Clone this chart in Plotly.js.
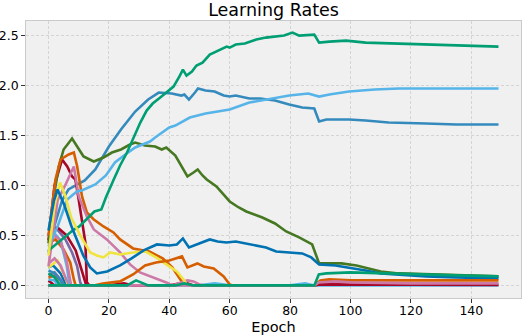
<!DOCTYPE html>
<html>
<head>
<meta charset="utf-8">
<script src="https://cdn.plot.ly/plotly-3.0.1.min.js"></script>
<style>
  html, body { margin: 0; padding: 0; background: #fff; }
  #plot { width: 524px; height: 336px; }
</style>
</head>
<body>
<div id="plot"></div>
<script>
// colours (bmh cycle)
const cBlue = '#348ABD', cRed = '#A60628', cPurple = '#7A68A6', cOlive = '#467821',
      cOrange = '#D55E00', cPink = '#CC79A7', cLight = '#56B4E9', cGreen = '#009E73',
      cYellow = '#F0E442', cDark = '#0072B2';

// small groups that die out in the first epochs
const s1x = [0, 2, 4, 5],        s1y = [0.15, 0.12, 0.05, 0];
const s2x = [0, 2, 4],           s2y = [0.12, 0.08, 0];
const s3x = [0, 1.5, 4, 6],      s3y = [0.18, 0.2, 0.12, 0];
const s4x = [0, 2, 4, 6, 7],     s4y = [0.22, 0.27, 0.2, 0.05, 0];
const s5x = [0, 3, 5.5, 6.5],    s5y = [0.18, 0.25, 0.08, 0];
const s6x = [0, 2, 4, 5],        s6y = [0.1, 0.13, 0.06, 0];
const s7x = [0, 2, 4, 5],        s7y = [0.08, 0.1, 0.05, 0];
const s8x = [0, 2, 3],           s8y = [0.06, 0.05, 0];
const s9x = [0, 2],              s9y = [0.05, 0];

// medium groups
const purpleX = [0, 0.7, 2.9, 5.6, 7.8, 9.5, 10.5, 11];
const purpleY = [0.5, 0.59, 0.56, 0.46, 0.33, 0.19, 0.03, 0];
const orange2X = [0, 2.3, 5, 7.2, 8.4, 9];
const orange2Y = [0.43, 0.46, 0.36, 0.23, 0.06, 0];
const light2X = [0, 2, 4, 6, 7];
const light2Y = [0.45, 0.52, 0.45, 0.2, 0];
const pink2X = [0, 2, 4, 6, 7.5];
const pink2Y = [0.42, 0.5, 0.45, 0.25, 0];
const red2X = [0, 3, 6, 9, 11, 12.5];
const red2Y = [0.55, 0.58, 0.5, 0.35, 0.15, 0];

const redX = [0, 2, 4.5, 6.2, 7.8, 8.9, 10, 11.1, 12.2, 12.7, 13.5];
const redY = [0.45, 1.0, 1.26, 1.19, 1.09, 1.06, 0.86, 0.66, 0.43, 0.03, 0];

const yellowX = [0, 2, 3.8, 5.5, 7.5, 10.5, 13.8, 16, 18.2, 20.4, 23.7, 28, 32, 35.6, 39, 42.5, 44.7, 45.8, 47];
const yellowY = [0.3, 0.8, 1.03, 0.9, 0.68, 0.5, 0.33, 0.3, 0.28, 0.33, 0.31, 0.33, 0.34, 0.28, 0.21, 0.14, 0.06, 0.01, 0];

const pinkX = [0, 1.7, 3, 5.5, 8.4, 10, 12.7, 15, 19.3, 23.7, 27, 30.3, 34.7, 36.9, 39, 41, 44, 46, 48, 50, 52];
const pinkY = [0.19, 0.56, 0.85, 1.0, 1.19, 0.89, 0.69, 0.56, 0.46, 0.33, 0.21, 0.13, 0.08, 0.06, 0.03, 0, 0.03, 0.05, 0.04, 0.01, 0];

const orangeX = [0, 2.3, 4, 6.7, 8.4, 9.5, 11.1, 12.7, 15, 18.2, 21.5, 23.7, 28, 33.4, 37.8, 41, 44.3, 45.5];
const orangeY = [0.5, 1.06, 1.26, 1.31, 1.33, 1.19, 0.89, 0.73, 0.66, 0.59, 0.53, 0.46, 0.37, 0.34, 0.27, 0.18, 0.03, 0];

const orangeBX = [0, 15, 18, 21, 23.7, 28, 32, 35.6, 40, 44.2, 46, 49.3, 51.4, 54.7, 58, 60, 61, 88, 90, 93, 100, 149];
const orangeBY = [0, 0, 0.02, 0.03, 0.04, 0.11, 0.2, 0.23, 0.25, 0.29, 0.18, 0.22, 0.19, 0.17, 0.09, 0.01, 0, 0, 0.05, 0.06, 0.05, 0.05];

const darkX = [0, 1.8, 3, 5.3, 7.5, 9.5, 11.5, 13.8, 16, 19.4, 23.7, 27.5, 31.5, 35.9, 40, 42.5, 44.5, 46.5, 50, 53.4, 56, 58.9, 62, 66.5, 72, 75.4, 80, 84, 87, 89.6, 95, 99.5, 105, 110, 118, 125, 135, 149];
const darkY = [0.55, 0.85, 0.96, 0.8, 0.6, 0.45, 0.3, 0.18, 0.12, 0.14, 0.2, 0.27, 0.35, 0.41, 0.4, 0.41, 0.47, 0.38, 0.42, 0.46, 0.44, 0.43, 0.44, 0.41, 0.38, 0.34, 0.33, 0.32, 0.28, 0.21, 0.2, 0.18, 0.15, 0.12, 0.1, 0.09, 0.08, 0.07];

const oliveX = [0, 1.8, 3.4, 5, 7.8, 9.5, 11.6, 15, 18.2, 21, 24, 27, 28.7, 31.9, 35.3, 37.5, 39, 42, 43.5, 45, 46, 48, 49.4, 51, 52.4, 55.6, 57, 60, 63, 65.5, 70.8, 75, 78.7, 83, 87.3, 88.7, 89.6, 97, 102, 106, 110, 116, 125, 135, 149];
const oliveY = [0.42, 0.9, 1.19, 1.36, 1.47, 1.39, 1.29, 1.24, 1.28, 1.33, 1.36, 1.41, 1.43, 1.40, 1.39, 1.36, 1.38, 1.3, 1.22, 1.15, 1.09, 1.13, 1.16, 1.1, 1.06, 0.99, 0.94, 0.84, 0.78, 0.74, 0.68, 0.62, 0.54, 0.48, 0.41, 0.3, 0.22, 0.22, 0.2, 0.17, 0.14, 0.12, 0.11, 0.1, 0.09];

const blueX = [0, 2, 4.5, 6.6, 9, 12, 15.5, 20, 24, 28.7, 33, 36.5, 40.8, 44, 45, 46.5, 48.5, 49.5, 52, 55, 58, 60, 62, 66.5, 70, 75, 79.7, 84, 88, 89.6, 92, 99.5, 105, 112.6, 125, 135, 149];
const blueY = [0.33, 0.6, 0.85, 0.96, 1.0, 1.05, 1.16, 1.39, 1.56, 1.74, 1.86, 1.93, 1.92, 1.9, 1.91, 1.86, 1.93, 1.97, 1.95, 1.94, 1.9, 1.89, 1.9, 1.87, 1.87, 1.85, 1.81, 1.78, 1.77, 1.64, 1.66, 1.66, 1.65, 1.63, 1.62, 1.61, 1.61];

const lightX = [0, 3, 6.2, 9.4, 11, 15.5, 19, 22, 25, 28.7, 33.6, 35.3, 40, 42, 46.8, 52, 56, 60, 66.5, 72, 79.7, 86, 89.6, 93, 99.5, 108, 116, 149];
const lightY = [0.39, 0.59, 0.86, 0.94, 0.95, 1.01, 1.1, 1.23, 1.3, 1.38, 1.44, 1.48, 1.58, 1.6, 1.68, 1.72, 1.74, 1.76, 1.83, 1.86, 1.9, 1.92, 1.89, 1.91, 1.94, 1.96, 1.97, 1.97];

const greenX = [0, 4, 8, 10.2, 13, 15.2, 17.5, 19, 21.6, 23.7, 26, 28.5, 30.4, 32.5, 34.5, 37, 41.4, 43.5, 44.5, 45.7, 47.5, 49, 51, 53.4, 55.5, 57, 59, 60, 62, 65, 68.8, 72, 75, 78, 80.8, 83, 88, 89.6, 93, 98.5, 105, 116, 125, 135, 149];
const greenY = [0.35, 0.45, 0.55, 0.59, 0.68, 0.74, 0.76, 0.88, 1.06, 1.2, 1.33, 1.5, 1.63, 1.75, 1.82, 1.88, 1.99, 2.1, 2.16, 2.1, 2.14, 2.2, 2.23, 2.31, 2.34, 2.36, 2.39, 2.38, 2.41, 2.42, 2.46, 2.48, 2.49, 2.5, 2.53, 2.5, 2.51, 2.43, 2.44, 2.45, 2.43, 2.42, 2.41, 2.4, 2.39];

// groups sitting near zero for the whole run
const lowRedX = [0, 20, 25, 28, 40, 45, 48, 60, 88, 90, 100, 149];
const lowRedY = [0, 0, 0.02, 0, 0, 0.03, 0, 0, 0, 0.01, 0.01, 0.005];
const lowLightX = [0, 50, 55, 60, 80, 85, 88, 149];
const lowLightY = [0, 0, 0.02, 0, 0, 0.02, 0, 0];
const lowPinkX = [0, 60, 88, 89.5, 95, 100, 120, 149];
const lowPinkY = [0, 0, 0, 0.03, 0.04, 0.03, 0.02, 0.02];
const baseX = [0, 26, 29, 33, 42, 45, 48, 88, 89.5, 92, 100, 110, 120, 135, 149];
const baseY = [0, 0, 0.05, 0, 0, 0.02, 0, 0, 0.11, 0.12, 0.13, 0.12, 0.11, 0.1, 0.09];

const series = [
  [s9x, s9y, cRed], [s8x, s8y, cLight], [s7x, s7y, cOrange], [s6x, s6y, cPurple],
  [s1x, s1y, cBlue], [s2x, s2y, cGreen], [s3x, s3y, cDark], [s5x, s5y, cYellow], [s4x, s4y, cPink],
  [purpleX, purpleY, cPurple], [orange2X, orange2Y, cOrange], [light2X, light2Y, cLight],
  [pink2X, pink2Y, cPink], [red2X, red2Y, cRed],
  [lowLightX, lowLightY, cLight], [lowRedX, lowRedY, cRed],
  [blueX, blueY, cBlue], [redX, redY, cRed], [oliveX, oliveY, cOlive],
  [orangeX, orangeY, cOrange], [pinkX, pinkY, cPink], [lightX, lightY, cLight],
  [greenX, greenY, cGreen], [yellowX, yellowY, cYellow], [darkX, darkY, cDark],
  [orangeBX, orangeBY, cOrange], [lowPinkX, lowPinkY, cPink], [baseX, baseY, cGreen]
];

let traces = [];
for (const s of series) {
  traces.push({
    x: s[0], y: s[1], type: 'scatter', mode: 'lines',
    line: { color: s[2], width: 2.6 },
    hoverinfo: 'skip'
  });
}

let layout = {
  width: 524, height: 336,
  margin: { l: 26, r: 3, t: 21, b: 38 },
  paper_bgcolor: '#ffffff',
  plot_bgcolor: '#f0f0f0',
  showlegend: false,
  font: { family: 'DejaVu Sans', size: 12.5, color: '#000' },
  title: { text: 'Learning Rates', x: 0.522, xanchor: 'center', y: 0.97, yanchor: 'middle',
           font: { size: 17.5, color: '#000' } },
  xaxis: {
    range: [-7.45, 156.45], tickvals: [0, 20, 40, 60, 80, 100, 120, 140],
    ticks: 'outside', ticklen: 3.5, tickcolor: '#333', tickwidth: 1, ticklabelstandoff: -3,
    showgrid: true, gridcolor: '#c8c8c8', griddash: '3px,2px', gridwidth: 0.7,
    zeroline: false, showline: true, linecolor: '#cacaca', linewidth: 1.3, mirror: true,
    title: { text: 'Epoch', font: { size: 14.5 }, standoff: 5 }
  },
  yaxis: {
    range: [-0.126, 2.646], tickvals: [0, 0.5, 1, 1.5, 2, 2.5], tickformat: '.1f',
    ticks: 'outside', ticklen: 3.5, tickcolor: '#333', tickwidth: 1,
    showgrid: true, gridcolor: '#c8c8c8', griddash: '3px,2px', gridwidth: 0.7,
    zeroline: false, showline: true, linecolor: '#cacaca', linewidth: 1.3, mirror: true
  }
};

Plotly.newPlot('plot', traces, layout, { staticPlot: true });
</script>
</body>
</html>
